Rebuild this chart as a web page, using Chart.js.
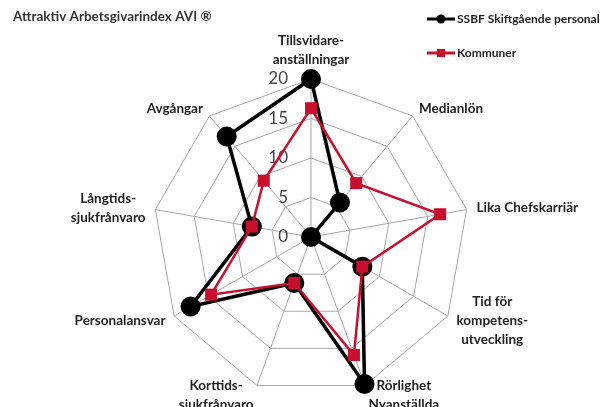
<!DOCTYPE html>
<html>
<head>
<meta charset="utf-8">
<script src="https://cdn.jsdelivr.net/npm/chart.js@4.4.1/dist/chart.umd.min.js"></script>
<style>
    html, body { margin: 0; padding: 0; background: #ffffff; overflow: hidden; }
</style>
</head>
<body>
<canvas id="aviChart" width="604" height="407"></canvas>
<script>
const categories = [
    ["Tillsvidare-", "anställningar"],
    "Medianlön",
    "Lika Chefskarriär",
    ["Tid för", "kompetens-", "utveckling"],
    ["Rörlighet", "Nyanställda"],
    ["Korttids-", "sjukfrånvaro"],
    "Personalansvar",
    ["Långtids-", "sjukfrånvaro"],
    "Avgångar"
];
const ssbfValues = [20, 5.7, 0, 7.5, 19.8, 6.2, 17.6, 7.6, 16.6];
const kommunValues = [16.3, 8.9, 16.6, 7.5, 15.9, 6.2, 14.6, 7.6, 9.3];
const tickValues = [0, 5, 10, 15, 20];

const chartTitle = "Attraktiv Arbetsgivarindex AVI ®";
const seriesNames = ["SSBF Skiftgående personal", "Kommuner"];
const fontFamily = "Lato, 'Open Sans', sans-serif";

// tick numbers sit left of the vertical axis, like the original
const tickLabelPlugin = {
    id: "tickLabels",
    beforeDatasetsDraw(chart) {
        const scale = chart.scales.r;
        const ctx = chart.ctx;
        ctx.save();
        ctx.font = "17px " + fontFamily;
        ctx.fillStyle = "#444444";
        ctx.textAlign = "right";
        ctx.textBaseline = "middle";
        tickValues.forEach(v => {
            const d = scale.getDistanceFromCenterForValue(v);
            ctx.fillText(String(v), scale.xCenter - 23, scale.yCenter - d);
        });
        ctx.restore();
    }
};

// category labels placed outside each spoke, lines centred in their block
const pointLabelPlugin = {
    id: "spokeLabels",
    afterDraw(chart) {
        const scale = chart.scales.r;
        const ctx = chart.ctx;
        const lineH = 19;
        ctx.save();
        ctx.font = "bold 13.5px " + fontFamily;
        ctx.fillStyle = "#222222";
        ctx.textBaseline = "middle";
        ctx.textAlign = "center";
        chart.data.labels.forEach((label, i) => {
            const lines = Array.isArray(label) ? label : [label];
            const pos = scale.getPointPosition(i, scale.drawingArea + 10);
            const a = pos.angle + Math.PI / 2;
            const s = Math.sin(a), c = Math.cos(a);
            const w = Math.max(...lines.map(l => ctx.measureText(l).width));
            const h = lines.length * lineH;
            let cx = pos.x;
            if (s > 0.1) cx = pos.x + w / 2;
            else if (s < -0.1) cx = pos.x - w / 2;
            let top = pos.y - h / 2;
            if (Math.abs(s) <= 0.1) top = c > 0 ? pos.y - h : pos.y;
            lines.forEach((l, k) => ctx.fillText(l, cx, top + lineH * (k + 0.5)));
        });
        ctx.restore();
    }
};

const headerPlugin = {
    id: "header",
    afterDraw(chart) {
        const ctx = chart.ctx;
        ctx.save();
        ctx.font = "bold 13.5px " + fontFamily;
        ctx.fillStyle = "#333333";
        ctx.textBaseline = "middle";
        ctx.textAlign = "left";
        ctx.fillText(chartTitle, 13, 17);

        // legend, stacked at top right
        const rows = [
            { ds: chart.data.datasets[1], y: 19 },
            { ds: chart.data.datasets[0], y: 53 }
        ];
        rows.forEach(row => {
            ctx.strokeStyle = row.ds.borderColor;
            ctx.lineWidth = 3;
            ctx.beginPath();
            ctx.moveTo(427, row.y);
            ctx.lineTo(455, row.y);
            ctx.stroke();
            ctx.fillStyle = row.ds.borderColor;
            if (row.ds.pointStyle === "circle") {
                ctx.beginPath();
                ctx.arc(441, row.y, 4.5, 0, Math.PI * 2);
                ctx.fill();
            } else {
                ctx.fillRect(437, row.y - 4, 8, 8);
            }
            ctx.font = "bold 12px " + fontFamily;
            ctx.fillStyle = "#222222";
            ctx.fillText(row.ds.label, 457, row.y);
        });
        ctx.restore();
    }
};

const ctx = document.getElementById("aviChart").getContext("2d");
const aviChart = new Chart(ctx, {
    type: "radar",
    data: {
        labels: categories,
        datasets: [
            {
                label: seriesNames[1],
                data: kommunValues,
                borderColor: "#c8102e",
                backgroundColor: "transparent",
                borderWidth: 2.5,
                pointStyle: "rect",
                pointRadius: 8.5,
                pointBackgroundColor: "#c8102e",
                pointBorderColor: "#c8102e",
                pointBorderWidth: 0,
                order: 0
            },
            {
                label: seriesNames[0],
                data: ssbfValues,
                borderColor: "#000000",
                backgroundColor: "transparent",
                borderWidth: 3.5,
                pointStyle: "circle",
                pointRadius: 10,
                pointBackgroundColor: "#000000",
                pointBorderColor: "#000000",
                pointBorderWidth: 0,
                order: 1
            }
        ]
    },
    options: {
        responsive: false,
        animation: false,
        layout: {
            padding: { top: 79, left: 18, right: 0, bottom: 12 }
        },
        scales: {
            r: {
                min: 0,
                max: 20,
                ticks: { stepSize: 5, display: false },
                grid: { color: "#a8a8a8", lineWidth: 1 },
                angleLines: { color: "#a8a8a8", lineWidth: 1 },
                pointLabels: { display: false }
            }
        },
        plugins: {
            legend: { display: false },
            tooltip: { enabled: false }
        }
    },
    plugins: [tickLabelPlugin, pointLabelPlugin, headerPlugin]
});
</script>
</body>
</html>
